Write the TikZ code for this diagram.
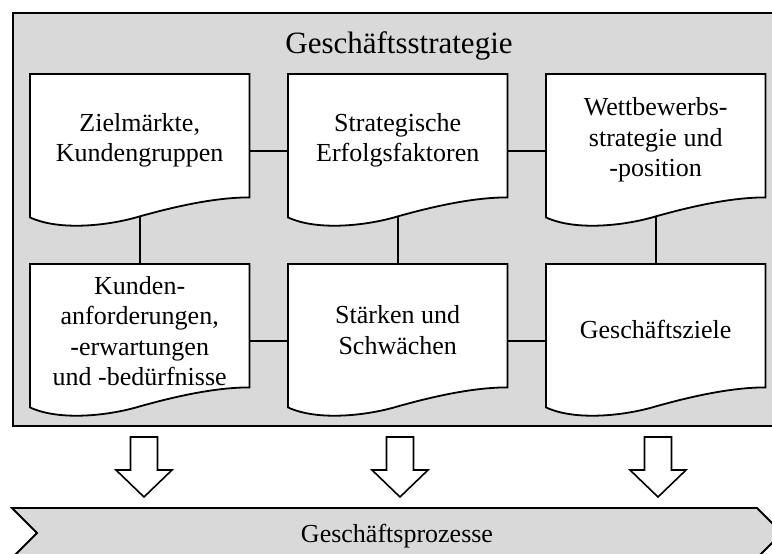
\documentclass[tikz,border=0pt]{standalone}
\usepackage{fontspec}
\setmainfont{Liberation Serif}
\usetikzlibrary{calc}
\definecolor{boxgray}{RGB}{217,217,217}

% document-shaped outline around a rectangular node, wavy lower edge
\newcommand\docoutline[1]{%
  \draw[docline] (#1.north west) -- (#1.north east) -- (#1.south east)
    .. controls ($(#1.south east)+(-34,0)$) and ($(#1.south east)+(-74,9)$) .. ($(#1.south)+(0,19)$)
    .. controls ($(#1.south west)+(80,28)$) and ($(#1.south west)+(30,34)$) .. ($(#1.south west)+(0,20)$)
    -- cycle;
  \coordinate (#1w) at ($(#1.south)+(0,19)$);}

\begin{document}
\begin{tikzpicture}[x=1pt,y=-1pt,
  frame/.style={draw=black, line width=1.8pt, fill=boxgray},
  docbox/.style={rectangle, draw=none, minimum width=219pt, minimum height=123pt,
                 inner sep=0pt, anchor=north west},
  docline/.style={draw=black, line width=1.8pt, fill=white, line join=miter},
  doctext/.style={align=center, font=\fontsize{26}{30.5}\selectfont, inner sep=0pt},
  link/.style={draw=black, line width=1.8pt},
  flowarrow/.style={draw=black, line width=1.6pt, fill=white, line join=miter},
]
\useasboundingbox (0,0) rectangle (772,554);
\fill[white] (0,0) rectangle (800,580);

% strategy frame, open towards the right edge
\fill[boxgray] (13,13) rectangle (800,426);
\draw[draw=black, line width=1.8pt] (800,13) -- (13,13) -- (13,426) -- (800,426);
\node[font=\fontsize{31}{37}\selectfont, anchor=base] (title) at (399,53) {Geschäftsstrategie};

% placement of the six documents
\node[docbox] (zm) at (30,74)   {};
\node[docbox] (se) at (288,74)  {};
\node[docbox] (ws) at (546,74)  {};
\node[docbox] (ka) at (30,264)  {};
\node[docbox] (sw) at (288,264) {};
\node[docbox] (gz) at (546,264) {};

\docoutline{zm}
\docoutline{se}
\docoutline{ws}
\docoutline{ka}
\docoutline{sw}
\docoutline{gz}

% connections
\draw[link] ([yshift=-15.5pt]zm.east) -- ([yshift=-15.5pt]se.west);
\draw[link] ([yshift=-15.5pt]se.east) -- ([yshift=-15.5pt]ws.west);
\draw[link] ([yshift=-15.5pt]ka.east) -- ([yshift=-15.5pt]sw.west);
\draw[link] ([yshift=-15.5pt]sw.east) -- ([yshift=-15.5pt]gz.west);
\draw[link] (zmw) -- (ka.north);
\draw[link] (sew) -- (sw.north);
\draw[link] (wsw) -- (gz.north);

% texts
\node[doctext] (zmT) at ([yshift=-4.5pt]zm.center) {Zielmärkte,\\Kundengruppen};
\node[doctext] (seT) at ([yshift=-4.5pt]se.center) {Strategische\\Erfolgsfaktoren};
\node[doctext] (wsT) at ([yshift=-4.5pt]ws.center) {Wettbewerbs-\\strategie und\\-position};
\node[doctext] (kaT) at ([yshift=-5.5pt]ka.center) {Kunden-\\anforderungen,\\-erwartungen\\und -bedürfnisse};
\node[doctext] (swT) at ([yshift=-4.5pt]sw.center) {Stärken und\\Schwächen};
\node[doctext] (gzT) at ([yshift=-4pt]gz.center) {Geschäftsziele};

% block arrows
\foreach \cx in {144,400,658}{
  \draw[flowarrow] (\cx-13.5,437) -- (\cx+13.5,437) -- (\cx+13.5,470) -- (\cx+28,470)
    -- (\cx,497) -- (\cx-28,470) -- (\cx-13.5,470) -- cycle;
}

% process chevron
\draw[frame] (12,508) -- (757,508) -- (782,533) -- (757,558) -- (12,558) -- (37,533) -- cycle;
\node[font=\fontsize{26}{30}\selectfont, anchor=base] (proc) at (397,542) {Geschäftsprozesse};
\end{tikzpicture}
\end{document}
